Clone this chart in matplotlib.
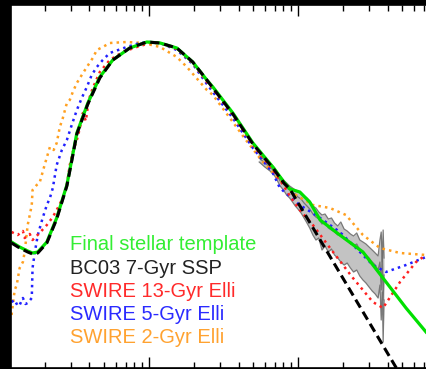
import numpy as np
import matplotlib.pyplot as plt
from matplotlib.ticker import LogLocator, NullLocator, NullFormatter

# wavelength in micron, log10(nu L_nu) normalised to the peak

# Final stellar template (green)
green_lam = [0.120, 0.136, 0.154, 0.166, 0.180, 0.207, 0.241, 0.282, 0.304, 0.329,
             0.390, 0.469, 0.573, 0.745, 0.970, 1.19, 1.54, 1.97, 2.45, 2.69,
             3.66, 4.99, 6.79, 8.05, 8.83, 10.3, 12.0, 14.1, 19.1, 27.3,
             39.0, 53.1, 72.3]
green_logL = [-2.00, -2.05, -2.09, -2.11, -2.10, -2.00, -1.76, -1.43, -1.18, -0.91,
              -0.61, -0.35, -0.18, -0.06, 0.00, -0.01, -0.06, -0.20, -0.38, -0.45,
              -0.71, -1.01, -1.25, -1.40, -1.47, -1.50, -1.60, -1.78, -1.93, -2.10,
              -2.40, -2.66, -2.90]

# BC03 7-Gyr SSP (black dashed)
bc03_lam = [0.120, 0.136, 0.154, 0.166, 0.180, 0.207, 0.241, 0.282, 0.304, 0.329,
            0.390, 0.469, 0.573, 0.745, 0.970, 1.19, 1.54, 1.97, 2.45, 2.69,
            3.66, 4.99, 6.79, 8.05, 8.83, 56.5]
bc03_logL = [-2.01, -2.06, -2.10, -2.12, -2.11, -2.01, -1.77, -1.44, -1.19, -0.92,
             -0.62, -0.36, -0.18, -0.06, 0.00, -0.01, -0.06, -0.20, -0.38, -0.46,
             -0.72, -1.02, -1.26, -1.41, -1.47, -3.49]

# SWIRE 13-Gyr Elli (red)
red_lam = [0.120, 0.132, 0.143, 0.147, 0.159, 0.166, 0.185, 0.207, 0.227, 0.245,
           0.265, 0.282, 0.295, 0.309, 0.329, 0.345, 0.361, 0.378, 0.395, 0.421,
           0.469, 0.547, 0.669, 0.830, 1.02, 1.19, 1.54, 1.97, 2.45, 2.69,
           3.66, 4.99, 6.79, 8.05, 8.83, 10.3, 12.6, 17.2, 23.4, 31.8,
           37.2, 48.4, 62.0, 72.3]
red_logL = [-1.90, -1.93, -1.89, -1.96, -1.92, -1.98, -1.91, -1.83, -1.75, -1.66,
            -1.56, -1.43, -1.23, -1.10, -0.98, -0.86, -0.71, -0.79, -0.58, -0.46,
            -0.30, -0.18, -0.10, -0.05, -0.01, -0.01, -0.07, -0.21, -0.40, -0.47,
            -0.73, -1.03, -1.28, -1.44, -1.54, -1.68, -1.83, -2.10, -2.36, -2.60,
            -2.66, -2.40, -2.20, -2.13]

# SWIRE 5-Gyr Elli (blue)
blue_lam = [0.120, 0.126, 0.132, 0.136, 0.143, 0.149, 0.154, 0.164, 0.166, 0.172,
            0.180, 0.194, 0.207, 0.217, 0.227, 0.241, 0.261, 0.282, 0.304, 0.329,
            0.355, 0.384, 0.414, 0.448, 0.491, 0.547, 0.711, 0.871, 1.02, 1.19,
            1.54, 1.97, 2.45, 2.69, 3.66, 4.99, 6.79, 7.57, 10.3, 14.1,
            19.1, 24.5, 31.8, 39.0, 53.1, 72.3]
blue_logL = [-2.60, -2.58, -2.64, -2.63, -2.56, -2.62, -2.61, -2.56, -2.26, -2.10,
             -1.93, -1.76, -1.63, -1.56, -1.46, -1.23, -1.08, -0.98, -0.83, -0.68,
             -0.56, -0.45, -0.33, -0.25, -0.18, -0.11, -0.05, -0.01, 0.00, -0.01,
             -0.08, -0.22, -0.42, -0.50, -0.76, -1.06, -1.31, -1.46, -1.63, -1.76,
             -1.90, -2.06, -2.23, -2.30, -2.23, -2.15]

# SWIRE 2-Gyr Elli (orange)
orange_lam = [0.120, 0.126, 0.130, 0.136, 0.143, 0.147, 0.154, 0.159, 0.164, 0.166,
              0.177, 0.185, 0.200, 0.217, 0.230, 0.241, 0.253, 0.265, 0.282, 0.295,
              0.309, 0.329, 0.355, 0.384, 0.421, 0.448, 0.491, 0.547, 0.711, 0.912,
              1.19, 1.54, 1.80, 2.45, 2.69, 3.66, 4.48, 5.82, 7.57, 9.70,
              12.6, 16.4, 21.0, 27.3, 35.5, 48.4, 72.3]
orange_logL = [-2.73, -2.48, -2.43, -2.26, -2.20, -2.10, -1.83, -1.73, -1.63, -1.48,
               -1.43, -1.41, -1.23, -1.05, -1.08, -1.01, -0.85, -0.76, -0.61, -0.58,
               -0.50, -0.41, -0.33, -0.25, -0.16, -0.08, -0.05, -0.01, 0.00, -0.01,
               -0.05, -0.15, -0.25, -0.48, -0.53, -0.80, -0.98, -1.20, -1.38, -1.53,
               -1.63, -1.66, -1.73, -1.93, -2.06, -2.11, -2.13]

# mid-IR spectra (grey)
irs_lam = [5.5, 6.0, 6.5, 7.0, 7.3, 7.6, 8.0, 8.4, 8.8, 9.2,
           9.6, 10.0, 10.5, 11.0, 11.5, 12.0, 12.6, 13.2, 13.8, 14.5,
           15.2, 16.0, 16.8, 17.6, 18.5, 19.4, 20.4, 21.4, 22.5, 23.6,
           24.8, 26.0, 27.3, 28.6, 30.0, 31.5, 33.0, 34.5, 35.5, 36.2,
           36.8, 37.3, 37.8]
irs_a = [-1.13, -1.18, -1.21, -1.26, -1.30, -1.34, -1.38, -1.41, -1.44, -1.46,
         -1.48, -1.49, -1.52, -1.54, -1.56, -1.59, -1.64, -1.66, -1.70, -1.73,
         -1.72, -1.77, -1.76, -1.81, -1.84, -1.80, -1.87, -1.89, -1.92, -1.94,
         -1.91, -1.98, -2.00, -2.02, -2.05, -2.08, -2.11, -2.14, -1.98, -1.90,
         -2.20, -1.88, -2.16]
irs_b = [-1.16, -1.21, -1.25, -1.30, -1.34, -1.39, -1.42, -1.46, -1.48, -1.51,
         -1.52, -1.55, -1.57, -1.61, -1.64, -1.67, -1.72, -1.75, -1.77, -1.82,
         -1.80, -1.86, -1.88, -1.90, -1.93, -1.91, -1.97, -1.98, -2.01, -2.04,
         -2.02, -2.08, -2.10, -2.13, -2.16, -2.20, -2.23, -2.28, -2.20, -2.48,
         -2.08, -2.58, -2.33]
irs_c = [-1.20, -1.25, -1.29, -1.34, -1.39, -1.44, -1.48, -1.53, -1.56, -1.60,
         -1.64, -1.67, -1.71, -1.76, -1.81, -1.86, -1.93, -1.98, -1.96, -2.08,
         -2.04, -2.10, -2.07, -2.13, -2.16, -2.20, -2.23, -2.21, -2.26, -2.30,
         -2.28, -2.34, -2.38, -2.41, -2.45, -2.49, -2.52, -2.56, -2.43, -2.78,
         -2.50, -3.00, -2.58]

labels = ['Final stellar template', 'BC03 7-Gyr SSP', 'SWIRE 13-Gyr Elli',
          'SWIRE 5-Gyr Elli', 'SWIRE 2-Gyr Elli']
label_colors = ['#33ee33', '#222222', '#ff2a2a', '#2a2aff', '#ffa230']

plt.rcParams['font.family'] = ['Liberation Sans', 'DejaVu Sans']

fig = plt.figure(figsize=(4.26, 3.69), dpi=100, facecolor='black')
ax = fig.add_axes([11 / 426, 1 / 369, 415 / 426, 363 / 369])
ax.set_facecolor('white')

# spectra bundle
ax.fill_between(irs_lam, 10 ** np.array(irs_a), 10 ** np.array(irs_c),
                color='#888888', alpha=0.5, lw=0)
for s in (irs_a, irs_b, irs_c):
    ax.plot(irs_lam, 10 ** np.array(s), color='#6e6e6e', lw=0.9, alpha=0.9)

ax.plot(orange_lam, 10 ** np.array(orange_logL), ':', color='#ffa020', lw=1.8)
ax.plot(blue_lam, 10 ** np.array(blue_logL), ':', color='#2020ff', lw=1.8)
ax.plot(red_lam, 10 ** np.array(red_logL), ':', color='#ff2020', lw=1.8)
ax.plot(green_lam, 10 ** np.array(green_logL), '-', color='#00e000', lw=2.3)
ax.plot(bc03_lam, 10 ** np.array(bc03_logL), color='black', lw=2.2,
        linestyle=(0, (3, 1.6)))

ax.set_xscale('log')
ax.set_yscale('log')
ax.set_xlim(0.119, 72.3)
ax.set_ylim(10 ** -3.26, 10 ** 0.37)

ax.xaxis.set_major_locator(LogLocator(base=10))
ax.xaxis.set_minor_locator(LogLocator(base=10, subs=np.arange(2, 10)))
ax.xaxis.set_major_formatter(NullFormatter())
ax.xaxis.set_minor_formatter(NullFormatter())
ax.yaxis.set_major_locator(NullLocator())
ax.yaxis.set_minor_locator(NullLocator())
ax.tick_params(axis='x', which='both', direction='in', top=True, bottom=True, width=1)
ax.tick_params(axis='x', which='major', length=8)
ax.tick_params(axis='x', which='minor', length=4)
ax.spines['right'].set_visible(False)
for side in ('left', 'top', 'bottom'):
    ax.spines[side].set_linewidth(1.2)

# legend as coloured text
for i, (lab, col) in enumerate(zip(labels, label_colors)):
    ypix = 245 + 23.2 * i
    ax.text((70 - 11) / 415, (368 - ypix) / 363, lab, color=col, fontsize=14.5,
            va='center', ha='left', transform=ax.transAxes)

fig.savefig('out.png', dpi=100, facecolor='black')
